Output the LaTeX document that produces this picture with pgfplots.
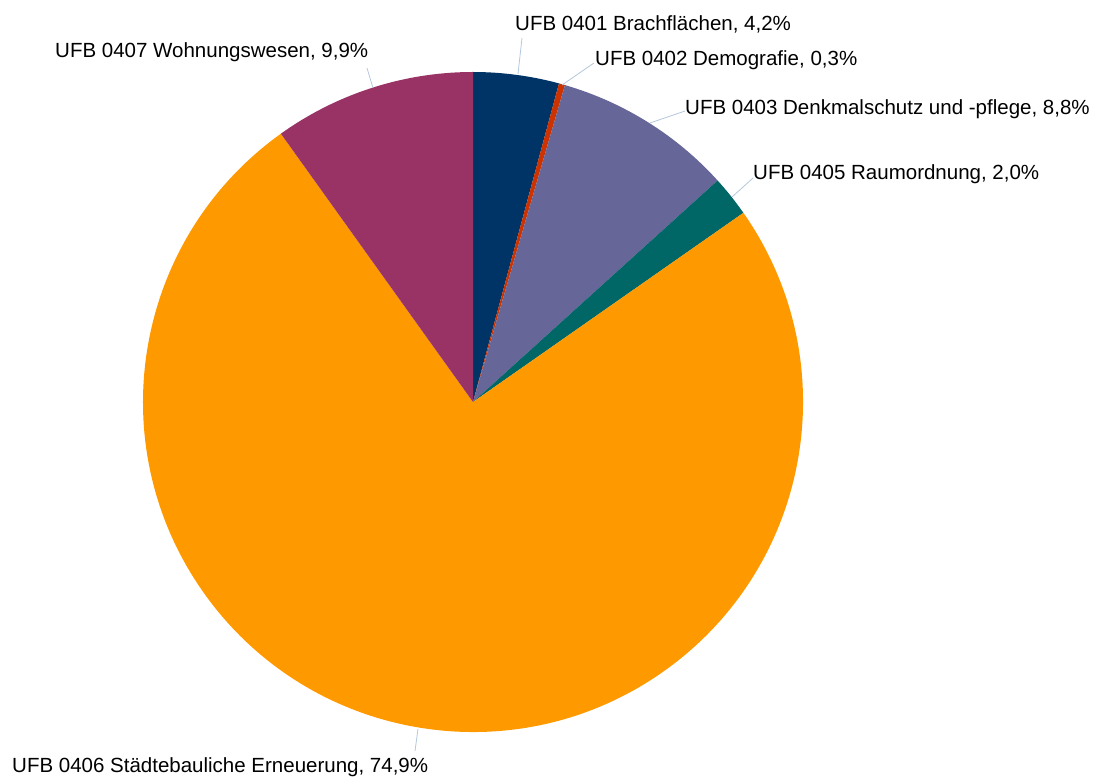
\documentclass[border=0pt]{standalone}
\usepackage{fontspec}
\setmainfont{Liberation Sans}
\usepackage{pgfplots}
\usepackage{pgfplotstable}
\pgfplotsset{compat=1.18}

\definecolor{slice0}{HTML}{003366}
\definecolor{slice1}{HTML}{CC3300}
\definecolor{slice2}{HTML}{666699}
\definecolor{slice3}{HTML}{006666}
\definecolor{slice4}{HTML}{FF9900}
\definecolor{slice5}{HTML}{993366}
\definecolor{leader}{HTML}{B4C7DC}

% shares in percent, clockwise from 12 o'clock
\pgfplotstableread{
value
4.2
0.3
8.8
2.0
74.9
9.9
}\piedata

% total and start/end angle of each slice
\def\total{0}
\pgfplotsforeachungrouped \i in {0,...,5}{%
  \pgfplotstablegetelem{\i}{value}\of\piedata
  \pgfmathsetmacro\total{\total+\pgfplotsretval}%
}
\def\cum{0}
\pgfplotsforeachungrouped \i in {0,...,5}{%
  \pgfplotstablegetelem{\i}{value}\of\piedata
  \pgfmathsetmacro\sa{90-\cum/\total*360}%
  \pgfmathsetmacro\cum{\cum+\pgfplotsretval}%
  \pgfmathsetmacro\ea{90-\cum/\total*360}%
  \expandafter\xdef\csname sa\i\endcsname{\sa}%
  \expandafter\xdef\csname ea\i\endcsname{\ea}%
}

\begin{document}
\begin{tikzpicture}[lbl/.style={anchor=base west, inner sep=0pt, font=\fontsize{20.5}{24}\selectfont}]
\begin{axis}[
    x=1pt, y=1pt,
    xmin=0, xmax=1095, ymin=0, ymax=776,
    hide axis,
    clip=false
]
\path (axis cs:0,0) rectangle (axis cs:1095,776);
\pgfplotsinvokeforeach{0,...,5}{
  \fill[slice#1] (axis cs:473,374) -- ++(\csname sa#1\endcsname:330pt)
    arc[start angle=\csname sa#1\endcsname, end angle=\csname ea#1\endcsname, radius=330pt] -- cycle;
}
% leader lines
\draw[leader, line width=0.8pt] (axis cs:518,702) -- (axis cs:522,738);
\draw[leader, line width=0.8pt] (axis cs:562,691) -- (axis cs:594,713);
\draw[leader, line width=0.8pt] (axis cs:650,653) -- (axis cs:685,665);
\draw[leader, line width=0.8pt] (axis cs:732,579) -- (axis cs:753,598);
\draw[leader, line width=0.8pt] (axis cs:418,47) -- (axis cs:415,25);
\draw[leader, line width=0.8pt] (axis cs:373,688) -- (axis cs:367,708);
% labels
\node[lbl] at (axis cs:515,745) {UFB 0401 Brachflächen, 4,2\%};
\node[lbl] at (axis cs:595,710) {UFB 0402 Demografie, 0,3\%};
\node[lbl] at (axis cs:685,661) {UFB 0403 Denkmalschutz und -pflege, 8,8\%};
\node[lbl] at (axis cs:753,596) {UFB 0405 Raumordnung, 2,0\%};
\node[lbl] at (axis cs:12,4) {UFB 0406 Städtebauliche Erneuerung, 74,9\%};
\node[lbl] at (axis cs:55,718) {UFB 0407 Wohnungswesen, 9,9\%};
\end{axis}
\end{tikzpicture}
\end{document}
